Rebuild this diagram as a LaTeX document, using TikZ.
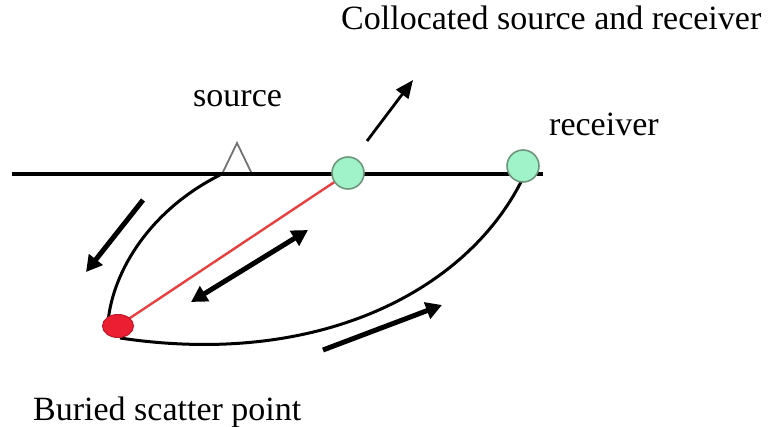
\documentclass[tikz,border=0pt]{standalone}
\usepackage{fontspec}
\setmainfont{Liberation Serif}
\newfontfamily\lblserif{Liberation Serif}
\usetikzlibrary{arrows.meta,shapes.geometric}
\definecolor{rcvgreen}{RGB}{160,242,200}
\definecolor{rcvedge}{RGB}{110,150,125}
\definecolor{scatred}{RGB}{235,30,50}
\definecolor{rayred}{RGB}{232,64,64}
\tikzset{
  lbl/.style={anchor=base west,inner sep=0pt,font=\lblserif\fontsize{34}{40}\selectfont},
  ray/.style={line width=3pt,black},
  bigarrow/.style={line width=5pt,-{Triangle[length=16pt,width=17pt]}},
  bigdarrow/.style={line width=5pt,{Triangle[length=16pt,width=17pt]}-{Triangle[length=16pt,width=17pt]}},
  thinarrow/.style={line width=2.8pt,-{Triangle[length=18pt,width=15pt]}},
  rcv/.style={circle,draw=rcvedge,line width=1.6pt,fill=rcvgreen,minimum size=32pt,inner sep=0pt},
}
\begin{document}
\begin{tikzpicture}[x=1pt,y=-1pt]
\useasboundingbox (0,0) rectangle (773,427);
% surface
\coordinate (sl) at (12,174);
\coordinate (sr) at (543,174);
\draw[line width=3.5pt] (sl) -- (sr);
% points
\coordinate (srcpt) at (220,175);
\coordinate (scat) at (118,326);
\coordinate (scatb) at (120,338);
\coordinate (rcvb) at (522,180);
% rays
\draw[ray] (srcpt) .. controls (151,209.6) and (113,270) .. (108,322);
\draw[ray] (scatb) .. controls (320,368) and (467,290) .. (rcvb);
\draw[rayred,line width=2.4pt] (scat) -- (348,173);
% source triangle
\draw[gray!90!black,line width=1.8pt,fill=white,line join=miter] (222,174) -- (237,143) -- (252,174) -- cycle;
\draw[line width=3.5pt] (215,174) -- (254,174);
% circles
\node[rcv] (colo) at (348,173) {};
\node[rcv] (recv) at (523,166) {};
\node[ellipse,draw=scatred!80!black,line width=1pt,fill=scatred,minimum width=31pt,minimum height=23pt,inner sep=0pt] (sc) at (scat) {};
% arrows
\coordinate (a1s) at (143,200); \coordinate (a1e) at (86,272);
\draw[bigarrow] (a1s) -- (a1e);
\coordinate (a2s) at (191,302); \coordinate (a2e) at (308,230);
\draw[bigdarrow] (a2s) -- (a2e);
\coordinate (a3s) at (323,350); \coordinate (a3e) at (442,305);
\draw[bigarrow] (a3s) -- (a3e);
\coordinate (a4s) at (367,141); \coordinate (a4e) at (413,80);
\draw[thinarrow] (a4s) -- (a4e);
% labels
\node[lbl] (t1) at (341,30) {Collocated source and receiver};
\node[lbl] (t2) at (193,107) {source};
\node[lbl] (t3) at (549,136) {receiver};
\node[lbl] (t4) at (33,420) {Buried scatter point};
\end{tikzpicture}
\end{document}
